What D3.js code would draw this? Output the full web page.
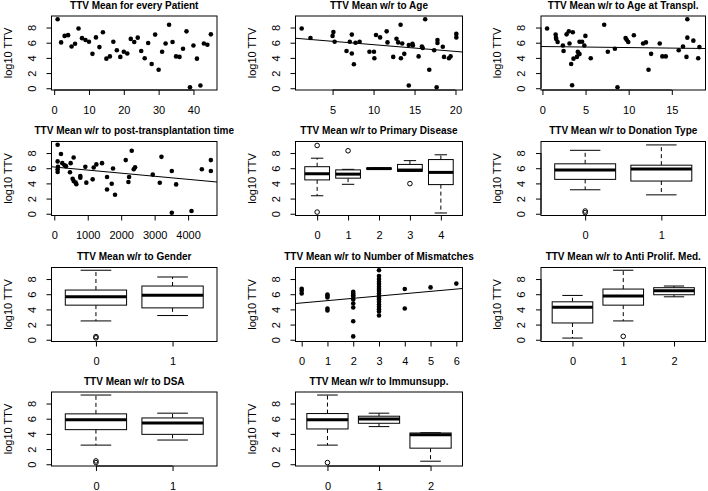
<!DOCTYPE html>
<html><head><meta charset="utf-8">
<script src="https://cdn.jsdelivr.net/npm/d3@7"></script>
<style>
body{margin:0;background:#fff}
svg text{font-family:"Liberation Sans",Arial,Helvetica,sans-serif}
</style>
</head><body>
<svg id="c" width="708" height="491"></svg>
<script>
// ---------------- DATA ----------------
const yTicks = [0, 2, 4, 6, 8];
const ttvRange = [0.13, 9.16];

// Panel 1: TTV mean for every patient
const patientId = [1,2,3,4,5,6,7,8,9,10,11,12,13,14,15,16,17,18,19,20,21,22,23,24,25,26,27,28,29,30,31,32,33,34,35,36,37,38,39,40,41,42,43,44,45];
const patientTTV = [9.1,6.04,6.9,7.0,5.5,5.87,7.87,6.6,6.36,6.13,4.53,6.7,5.42,7.38,3.9,4.2,6.13,5.0,4.13,4.8,4.58,6.5,6.1,6.67,4.9,3.96,5.96,3.2,7.07,2.44,4.8,5.9,8.36,6.1,4.2,4.13,5.2,7.5,0.13,5.64,3.9,0.36,5.9,5.73,7.1];
const patientTicks = [0, 10, 20, 30, 40];

// Panel 2: Age
const ageX = [1.23,2.3,5.0,5.1,5.25,6.7,7.1,7.35,7.35,7.6,7.8,8.3,9.5,10.05,10.1,10.3,10.8,11.6,11.7,12.4,12.8,13.0,13.3,13.34,13.5,13.75,14.3,14.3,14.75,14.8,15.5,15.9,16.0,16.3,16.8,17.4,17.7,17.8,17.8,18.45,18.6,19.2,19.4,20.1,20.1];
const ageY = [7.87,6.62,6.9,7.4,6.13,4.9,6.13,7.07,4.58,3.16,6.0,6.13,4.8,4.8,3.96,7.02,6.7,7.5,6.04,4.13,6.53,6.04,8.36,3.96,5.9,4.53,0.36,5.7,5.87,5.64,4.2,5.5,5.3,9.1,2.44,5.0,0.13,6.36,5.96,5.47,4.13,3.96,4.2,7.16,6.7];
const ageFit = [6.64, -0.0893];
const ageTicks = [5, 10, 15, 20];

// Panel 3: Age at transplantation
const atX = [0.54,1.53,1.57,1.6,1.76,2.37,2.45,2.8,3.06,3.14,3.33,3.44,3.52,3.6,4.0,4.1,4.2,4.3,4.3,4.6,4.86,4.98,5.6,7.16,7.58,8.4,8.7,9.64,9.76,9.95,10.6,11.67,12.0,12.3,12.6,13.6,13.9,14.3,15.8,16.3,16.8,16.8,16.7,17.5,18.2,18.06];
const atY = [7.87,7.07,6.67,6.5,6.1,5.64,4.9,7.1,7.5,5.9,3.2,0.4,7.38,3.9,4.13,4.8,4.58,4.5,6.13,6.13,5.64,6.9,3.96,8.36,4.8,5.2,0.13,6.62,6.4,6.1,6.98,5.9,6.04,2.44,4.53,5.9,4.2,4.2,5.0,5.5,9.1,6.67,4.13,6.27,5.42,3.96];
const atFit = [5.508, -0.0143];
const atTicks = [0, 5, 10, 15];

// Panel 4: post-transplantation time
const ptX = [100,100,100,100,110,200,240,309,349,469,489,579,549,579,639,659,778,778,928,958,1148,1178,1257,1427,1577,1577,1717,1756,1816,2136,2216,2236,2315,2375,2415,2944,3154,3204,3513,3513,3643,4102,4411,4681,4681];
const ptY = [9.1,6.9,5.87,5.5,6.2,7.87,6.67,6.4,6.27,5.47,6.67,7.42,4.62,4.3,4.1,3.9,4.98,4.76,6.18,4.1,4.53,6.1,6.5,6.67,4.84,3.2,3.96,5.96,2.5,7.07,4.18,4.84,8.3,5.87,6.13,5.16,4.09,7.5,5.64,0.13,3.87,0.36,5.87,7.07,5.64];
const ptFit = [6.15, -0.000403];
const ptTicks = [0, 1000, 2000, 3000, 4000];

// Panel 8: number of mismatches
const mmX = [0,0,0, 1,1,1,1,1, 2,2,2,2,2,2,2,2,2, 3,3,3,3,3,3,3,3,3,3,3,3,3,3,3,3,3,3, 4,4, 5, 6];
const mmY = [6.72,6.46,6.1, 5.97,5.8,5.58,4.12,3.85, 6.33,6.1,5.88,5.66,5.3,4.78,4.25,2.43,0.44, 9.16,8.4,8.0,7.65,7.35,7.0,6.68,6.42,6.1,5.8,5.53,5.3,5.0,4.65,4.34,4.03,3.72,3.19, 6.68,4.12, 6.9, 7.4];
const mmFit = [4.85, 0.306];
const mmTicks = [0, 1, 2, 3, 4, 5, 6];

// Boxplot panels: groups, whisker low, Q1, median, Q3, whisker high, outliers
const pdGroups = ["0","1","2","3","4"];
const pdLow = [2.37, 3.88, 5.88, 5.58, 0.1];
const pdQ1  = [4.46, 4.69, 5.88, 5.58, 3.84];
const pdMed = [5.27, 5.22, 5.95, 5.76, 5.45];
const pdQ3  = [6.2, 5.78, 6.02, 6.5, 7.14];
const pdHigh= [7.32, 5.85, 6.02, 7.0, 7.77];
const pdOut = [[9.0, 0.22], [8.3], [], [3.97], []];

const dtGroups = ["0","1"];
const dtLow = [3.16, 2.49];
const dtQ1  = [4.53, 4.31];
const dtMed = [5.78, 5.91];
const dtQ3  = [6.58, 6.4];
const dtHigh= [8.36, 9.07];
const dtOut = [[0.36, 0.15], []];

const gdGroups = ["0","1"];
const gdLow = [2.48, 3.19];
const gdQ1  = [4.56, 4.2];
const gdMed = [5.66, 5.88];
const gdQ3  = [6.55, 7.08];
const gdHigh= [9.16, 8.27];
const gdOut = [[0.42, 0.25], []];

const apGroups = ["0","1","2"];
const apLow = [0.22, 2.48, 5.66];
const apQ1  = [2.21, 4.56, 5.93];
const apMed = [4.29, 5.75, 6.46];
const apQ3  = [5.0, 6.68, 6.86];
const apHigh= [5.84, 9.16, 7.08];
const apOut = [[], [0.45], []];

const dsaGroups = ["0","1"];
const dsaLow = [2.52, 3.19];
const dsaQ1  = [4.56, 3.94];
const dsaMed = [5.88, 5.44];
const dsaQ3  = [6.64, 6.1];
const dsaHigh= [9.12, 6.73];
const dsaOut = [[0.44, 0.22], []];

const isGroups = ["0","1","2"];
const isLow = [2.52, 4.96, 0.4];
const isQ1  = [4.65, 5.4, 2.12];
const isMed = [5.88, 5.97, 3.9];
const isQ3  = [6.68, 6.33, 4.12];
const isHigh= [9.12, 6.73, 4.15];
const isOut = [[0.22], [], []];

// ---------------- LAYOUT ----------------
const svg = d3.select("#c");
const colL = [51.5, 295.5, 541], colW = [165.5, 167, 164.5];
const rowT = [16, 141.5, 267.5, 392], boxH = 74;
const FONT = "Liberation Sans, Arial, sans-serif";

function rlim(e){ const p = (e[1]-e[0])*0.04; return [e[0]-p, e[1]+p]; }

function frame(row, col, title){
  const L = colL[col], T = rowT[row], R = L + colW[col], B = T + boxH;
  const g = svg.append("g");
  g.append("text").attr("x", (L+R)/2).attr("y", T-7.5).attr("text-anchor","middle")
    .attr("font-size", 10).attr("font-weight","bold").attr("font-family", FONT).text(title);
  g.append("text").attr("transform", `translate(${L-40},${(T+B)/2}) rotate(-90)`)
    .attr("text-anchor","middle").attr("font-size", 11).attr("font-family", FONT).text("log10 TTV");
  return {g, L, T, R, B};
}

function axes(f, x, y, xticks, xlabels){
  const g = f.g;
  const ax = d3.axisBottom(x).tickValues(xticks).tickSize(5).tickPadding(11)
    .tickFormat((d,i) => xlabels ? xlabels[i] : d3.format("d")(d));
  const ga = g.append("g").attr("transform", `translate(0,${f.B})`).call(ax);
  ga.select(".domain").remove();
  ga.attr("font-size", 11).attr("font-family", FONT);
  ga.append("line").attr("x1", x(xticks[0])).attr("x2", x(xticks[xticks.length-1]))
    .attr("stroke","#000");
  const ay = d3.axisLeft(y).tickValues(yTicks).tickSize(5).tickFormat(d3.format("d"));
  const gy = g.append("g").attr("transform", `translate(${f.L},0)`).call(ay);
  gy.select(".domain").remove();
  gy.attr("font-size", 11).attr("font-family", FONT);
  gy.append("line").attr("y1", y(yTicks[0])).attr("y2", y(yTicks[yTicks.length-1])).attr("stroke","#000");
  gy.selectAll(".tick text").attr("x", null).attr("dy", null).attr("y", null)
    .attr("text-anchor","middle").attr("transform","translate(-16,0) rotate(-90)");
  g.append("rect").attr("x", f.L).attr("y", f.T).attr("width", f.R-f.L).attr("height", f.B-f.T)
    .attr("fill","none").attr("stroke","#000").attr("stroke-width", 1);
}

function scatter(row, col, title, xs, ys, xticks, fit){
  const f = frame(row, col, title);
  const x = d3.scaleLinear().domain(rlim(d3.extent(xs))).range([f.L, f.R]);
  const y = d3.scaleLinear().domain(rlim(ttvRange)).range([f.B, f.T]);
  axes(f, x, y, xticks);
  f.g.selectAll("circle.pt").data(xs).join("circle").attr("class","pt")
    .attr("cx", d => x(d)).attr("cy", (d,i) => y(ys[i])).attr("r", 2.3).attr("fill","#000");
  if (fit){
    const [x0, x1] = x.domain();
    f.g.append("line").attr("x1", x(x0)).attr("y1", y(fit[0]+fit[1]*x0))
      .attr("x2", x(x1)).attr("y2", y(fit[0]+fit[1]*x1))
      .attr("stroke","#000").attr("stroke-width", 1.1);
  }
}

function boxplot(row, col, title, groups, lo, q1, med, q3, hi, out){
  const f = frame(row, col, title);
  const n = groups.length;
  const pos = groups.map((_,i) => i+1);
  const x = d3.scaleLinear().domain(rlim([0.5, n+0.5])).range([f.L, f.R]);
  const y = d3.scaleLinear().domain(rlim(ttvRange)).range([f.B, f.T]);
  axes(f, x, y, pos, groups);
  const g = f.g;
  pos.forEach((p, i) => {
    const hw = 0.4, sw = 0.2;
    g.append("line").attr("x1", x(p)).attr("x2", x(p)).attr("y1", y(q3[i])).attr("y2", y(hi[i]))
      .attr("stroke","#000").attr("stroke-dasharray","4,3");
    g.append("line").attr("x1", x(p)).attr("x2", x(p)).attr("y1", y(q1[i])).attr("y2", y(lo[i]))
      .attr("stroke","#000").attr("stroke-dasharray","4,3");
    g.append("line").attr("x1", x(p-sw)).attr("x2", x(p+sw)).attr("y1", y(hi[i])).attr("y2", y(hi[i])).attr("stroke","#000");
    g.append("line").attr("x1", x(p-sw)).attr("x2", x(p+sw)).attr("y1", y(lo[i])).attr("y2", y(lo[i])).attr("stroke","#000");
    g.append("rect").attr("x", x(p-hw)).attr("width", x(p+hw)-x(p-hw))
      .attr("y", y(q3[i])).attr("height", Math.max(0.01, y(q1[i])-y(q3[i])))
      .attr("fill","#fff").attr("stroke","#000");
    g.append("line").attr("x1", x(p-hw)).attr("x2", x(p+hw)).attr("y1", y(med[i])).attr("y2", y(med[i]))
      .attr("stroke","#000").attr("stroke-width", 3);
    g.selectAll(null).data(out[i]).join("circle").attr("cx", x(p)).attr("cy", d => y(d))
      .attr("r", 2.3).attr("fill","none").attr("stroke","#000");
  });
}

scatter(0, 0, "TTV Mean for every Patient", patientId, patientTTV, patientTicks, null);
scatter(0, 1, "TTV Mean w/r to Age", ageX, ageY, ageTicks, ageFit);
scatter(0, 2, "TTV Mean w/r to Age at Transpl.", atX, atY, atTicks, atFit);
scatter(1, 0, "TTV Mean w/r to post-transplantation time", ptX, ptY, ptTicks, ptFit);
boxplot(1, 1, "TTV Mean w/r to Primary Disease", pdGroups, pdLow, pdQ1, pdMed, pdQ3, pdHigh, pdOut);
boxplot(1, 2, "TTV Mean w/r to Donation Type", dtGroups, dtLow, dtQ1, dtMed, dtQ3, dtHigh, dtOut);
boxplot(2, 0, "TTV Mean w/r to Gender", gdGroups, gdLow, gdQ1, gdMed, gdQ3, gdHigh, gdOut);
scatter(2, 1, "TTV Mean w/r to Number of Mismatches", mmX, mmY, mmTicks, mmFit);
boxplot(2, 2, "TTV Mean w/r to Anti Prolif. Med.", apGroups, apLow, apQ1, apMed, apQ3, apHigh, apOut);
boxplot(3, 0, "TTV Mean w/r to DSA", dsaGroups, dsaLow, dsaQ1, dsaMed, dsaQ3, dsaHigh, dsaOut);
boxplot(3, 1, "TTV Mean w/r to Immunsupp.", isGroups, isLow, isQ1, isMed, isQ3, isHigh, isOut);
</script>
</body></html>
